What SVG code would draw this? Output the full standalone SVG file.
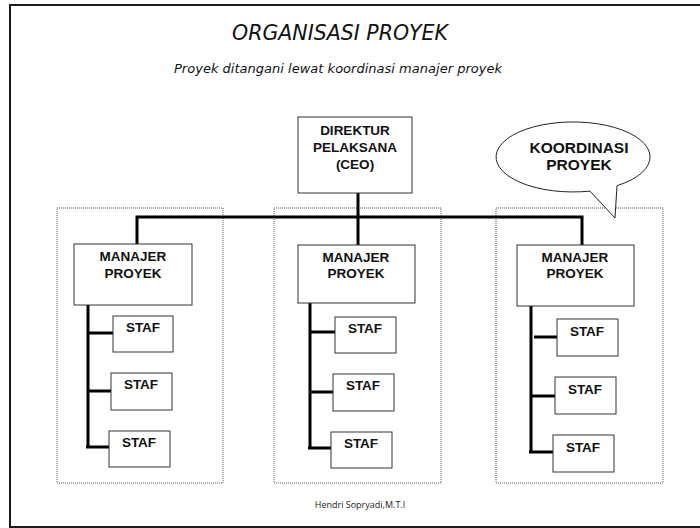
<svg xmlns="http://www.w3.org/2000/svg" width="700" height="528" viewBox="0 0 700 528">
  <style>
    .frame { fill: none; stroke: #1a1a1a; stroke-width: 2; }
    .group { fill: none; stroke: #555; stroke-width: 1; stroke-dasharray: 1 1; }
    .box { fill: #fff; stroke: #333; stroke-width: 1; }
    .bubble { fill: #fff; stroke: #222; stroke-width: 1; }
    .lbl { font-family: "Liberation Sans", Arial, sans-serif; font-weight: bold; font-size: 13.5px; fill: #111; text-anchor: middle; }
    .big { font-size: 15.5px; }
    .staf { font-family: "Liberation Sans", Arial, sans-serif; font-weight: bold; font-size: 13.5px; fill: #111; text-anchor: middle; }
    .hand { font-family: "DejaVu Sans", sans-serif; font-style: italic; font-weight: 300; fill: #111; }
    .foot { font-family: "Open Sans", "Liberation Sans", sans-serif; font-size: 9px; fill: #222; text-anchor: middle; }
    .wire { fill: none; stroke: #000; stroke-width: 3; }
  </style>

  <rect width="700" height="528" fill="#fff"/>
  <!-- page frame -->
  <path class="frame" d="M10,528 V5 H700 M10,527 H700"/>

  <!-- headings -->
  <text class="hand" x="232" y="40" font-size="21" textLength="216" lengthAdjust="spacingAndGlyphs">ORGANISASI PROYEK</text>
  <text class="hand" x="174" y="73" font-size="13" textLength="328" lengthAdjust="spacingAndGlyphs">Proyek ditangani lewat koordinasi manajer proyek</text>

  <!-- dotted project groups -->
  <rect class="group" x="57" y="208" width="166" height="275"/>
  <rect class="group" x="274" y="208" width="167" height="275"/>
  <rect class="group" x="496" y="208" width="167" height="275"/>

  <!-- connectors -->
  <g id="connectors">
    <path class="wire" d="M358,193 V245"/>
    <path class="wire" d="M137,244 V217 H582 V245"/>
    <path class="wire" d="M88,305 V447 M88,333 H113 M88,391 H111 M86,447 H109"/>
    <path class="wire" d="M310,303 V448 M310,332 H335 M310,392 H333 M308,448 H331"/>
    <path class="wire" d="M531,306 V452 M534,337 H557 M531,396 H555 M529,452 H553"/>
  </g>

  <g id="ceo">
    <rect class="box" x="298" y="117" width="114" height="76"/>
    <text class="lbl" x="355" y="135">DIREKTUR</text>
    <text class="lbl" x="355" y="152">PELAKSANA</text>
    <text class="lbl" x="355" y="169">(CEO)</text>
  </g>

  <g id="koordinasi">
    <path class="bubble" d="M590,191.1 A77,35 0 1 1 617,185.7 L615,218 Z"/>
    <text class="lbl big" x="579" y="153">KOORDINASI</text>
    <text class="lbl big" x="579" y="170">PROYEK</text>
  </g>

  <g id="manajer-1">
    <rect class="box" x="74" y="244" width="118" height="61"/>
    <text class="lbl" x="133" y="261">MANAJER</text>
    <text class="lbl" x="133" y="278">PROYEK</text>
  </g>
  <g id="manajer-2">
    <rect class="box" x="298" y="245" width="117" height="58"/>
    <text class="lbl" x="356" y="262">MANAJER</text>
    <text class="lbl" x="356" y="278">PROYEK</text>
  </g>
  <g id="manajer-3">
    <rect class="box" x="517" y="245" width="117" height="61"/>
    <text class="lbl" x="575" y="262">MANAJER</text>
    <text class="lbl" x="575" y="278">PROYEK</text>
  </g>

  <g id="staf-1a"><rect class="box" x="113" y="316" width="60" height="36"/><text class="staf" x="143" y="332">STAF</text></g>
  <g id="staf-1b"><rect class="box" x="111" y="373" width="61" height="37"/><text class="staf" x="141" y="389">STAF</text></g>
  <g id="staf-1c"><rect class="box" x="109" y="431" width="61" height="36"/><text class="staf" x="139" y="447">STAF</text></g>

  <g id="staf-2a"><rect class="box" x="335" y="317" width="61" height="36"/><text class="staf" x="365" y="333">STAF</text></g>
  <g id="staf-2b"><rect class="box" x="333" y="374" width="61" height="37"/><text class="staf" x="363" y="390">STAF</text></g>
  <g id="staf-2c"><rect class="box" x="331" y="432" width="61" height="36"/><text class="staf" x="361" y="448">STAF</text></g>

  <g id="staf-3a"><rect class="box" x="557" y="319" width="61" height="37"/><text class="staf" x="587" y="336">STAF</text></g>
  <g id="staf-3b"><rect class="box" x="555" y="377" width="61" height="37"/><text class="staf" x="585" y="394">STAF</text></g>
  <g id="staf-3c"><rect class="box" x="553" y="435" width="61" height="37"/><text class="staf" x="583" y="452">STAF</text></g>

  <text class="foot" x="360" y="508">Hendri Sopryadi,M.T.I</text>
</svg>
